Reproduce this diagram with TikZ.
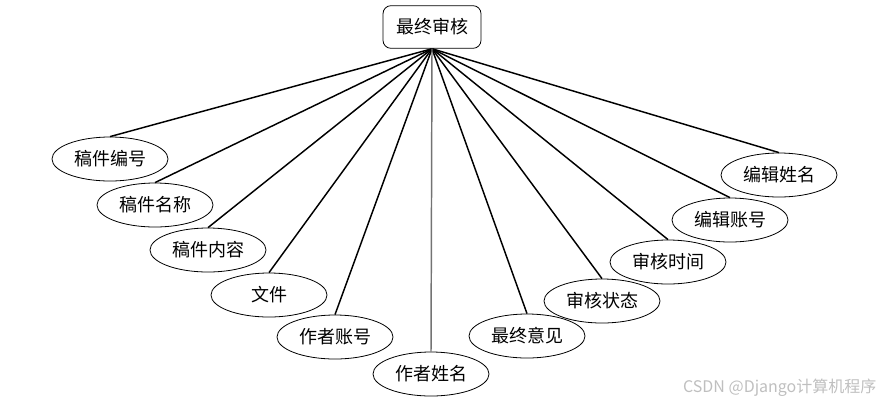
\documentclass[tikz,border=0pt]{standalone}
\usepackage{fontspec}
\newfontfamily\cjk{Noto Sans CJK SC}
\usetikzlibrary{shapes.geometric}

\tikzset{
  task/.style={draw, rounded corners=6pt, semithick, minimum width=73.5pt, minimum height=32pt, font=\cjk\fontsize{13.5}{15}\selectfont},
  attr/.style={draw, ellipse, semithick, inner sep=0pt, minimum width=87pt, minimum height=33pt, font=\cjk\fontsize{13.5}{15}\selectfont},
  link/.style={line width=1.1pt},
}

\begin{document}
\begin{tikzpicture}[x=0.75pt, y=-0.75pt]
  \useasboundingbox (0,0) rectangle (880,404);

  % Define nodes
  \node[task]  (audit) at (432,27)  {最终审核};
  \node[attr]  (gid)   at (110,159) {稿件编号};
  \node[attr]  (gname) at (155,205) {稿件名称};
  \node[attr]  (gtext) at (208,250) {稿件内容};
  \node[attr]  (file)  at (269,295) {文件};
  \node[attr]  (aacc)  at (335,337) {作者账号};
  \node[attr]  (aname) at (431,374) {作者姓名};
  \node[attr]  (fnote) at (527,336) {最终意见};
  \node[attr]  (state) at (602,301) {审核状态};
  \node[attr]  (time)  at (668,262) {审核时间};
  \node[attr]  (eacc)  at (730,220) {编辑账号};
  \node[attr]  (ename) at (779,175) {编辑姓名};

  % Connect the nodes
  \foreach \n in {gid,gname,gtext,file,aacc,fnote,state,time,eacc,ename}
    \draw[link] (audit.south) -- (\n.north);
  \draw[link, black!55] (audit.south) -- (aname.north);

  % Watermark
  \node[text=black!25, font=\cjk\fontsize{12}{14}\selectfont, anchor=east, inner sep=1pt] (mark) at (878,388) {CSDN @Django计算机程序};

\end{tikzpicture}
\end{document}
